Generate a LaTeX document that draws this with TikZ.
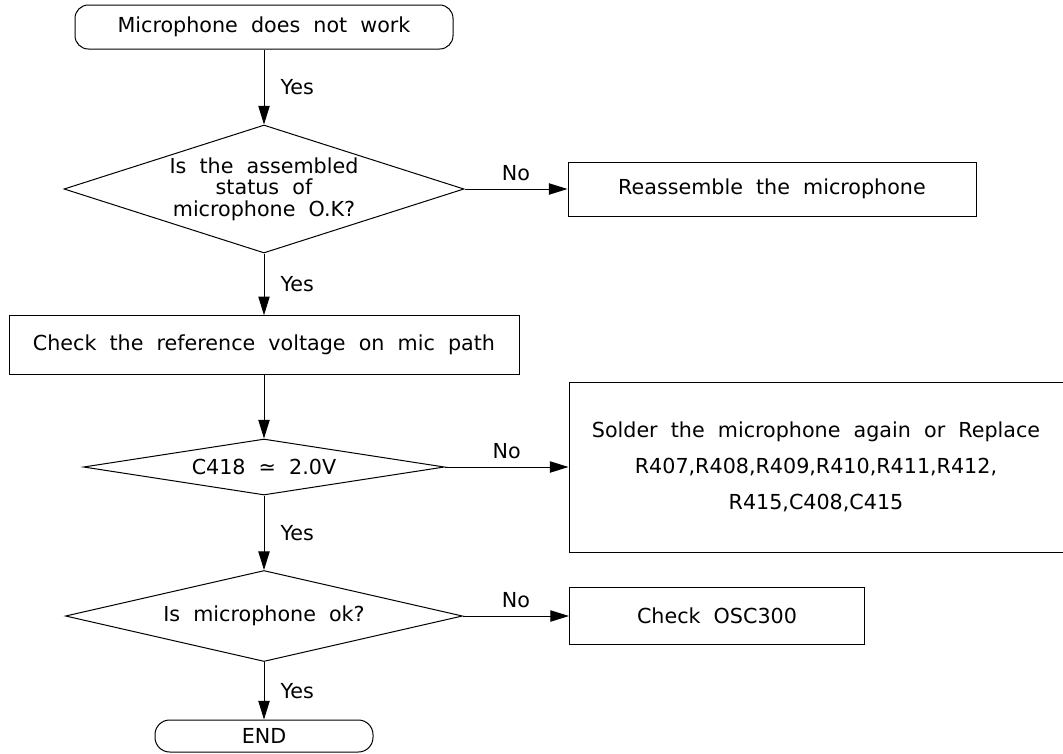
\documentclass[tikz,border=0pt]{standalone}
\usepackage{fontspec}
\setmainfont{DejaVu Sans}[WordSpace=2]
\usetikzlibrary{shapes.geometric,arrows.meta}

\begin{document}
\begin{tikzpicture}[auto, x=0.75pt, y=-0.75pt, line width=0.75pt,
			>={Triangle[length=14pt,width=8.5pt]},
			terminal/.style={rectangle,draw,font=\fontsize{15.5}{18}\selectfont},
			process/.style={rectangle,draw,align=center,font=\fontsize{15.5}{18}\selectfont},
			decision/.style={diamond,draw,inner sep=0pt,align=center,font=\fontsize{15.5}{16}\selectfont},
			yeslabel/.style={xshift=6pt}]
			
			\useasboundingbox (0,0) rectangle (1063,753);
			
			\node[terminal, rounded corners=10pt, minimum width=283.5pt, minimum height=33pt] (start) at (264,27) {Microphone does not work};
			\node[decision, minimum width=300pt, minimum height=96pt, inner sep=-4pt, shape aspect=3] (assembled) [below of=start, node distance=121.5pt] {Is the assembled\\status of\\microphone O.K?};
			\node[process, minimum width=306pt, minimum height=40.5pt] (reassemble) [right of=assembled, node distance=381pt] {Reassemble the microphone};
			\node[process, minimum width=382.5pt, minimum height=44pt] (check) [below of=assembled, node distance=117pt] {Check the reference voltage on mic path};
			\node[decision, minimum width=270.75pt, minimum height=42pt, shape aspect=6.4] (voltage) [below of=check, node distance=91.5pt] {C418 ≃ 2.0V};
			\node[process, minimum width=370.5pt, minimum height=127.5pt, font=\fontsize{15.5}{27}\selectfont] (solder) [right of=voltage, node distance=414pt] {Solder the microphone again or Replace\\R407,R408,R409,R410,R411,R412,\\R415,C408,C415};
			\node[decision, minimum width=297.75pt, minimum height=68.25pt, shape aspect=4.4] (micok) [below of=voltage, node distance=111.75pt] {Is microphone ok?};
			\node[process, minimum width=221.25pt, minimum height=42.75pt] (osc) [right of=micok, node distance=339.75pt] {Check OSC300};
			\node[terminal, rounded corners=11pt, minimum width=163.5pt, minimum height=24pt] (end) [below of=micok, node distance=90pt] {END};
			
			\path[->, every node/.style={font=\fontsize{15.5}{18}\selectfont, inner sep=6pt}]
			(start) edge node[yeslabel] {Yes} (assembled)
			(assembled) edge node {No} (reassemble)
			edge node[yeslabel] {Yes} (check)
			(check) edge (voltage)
			(voltage) edge node {No} (solder)
			edge node[yeslabel] {Yes} (micok)
			(micok) edge node {No} (osc)
			edge node[yeslabel] {Yes} (end);
			\end{tikzpicture}
\end{document}
